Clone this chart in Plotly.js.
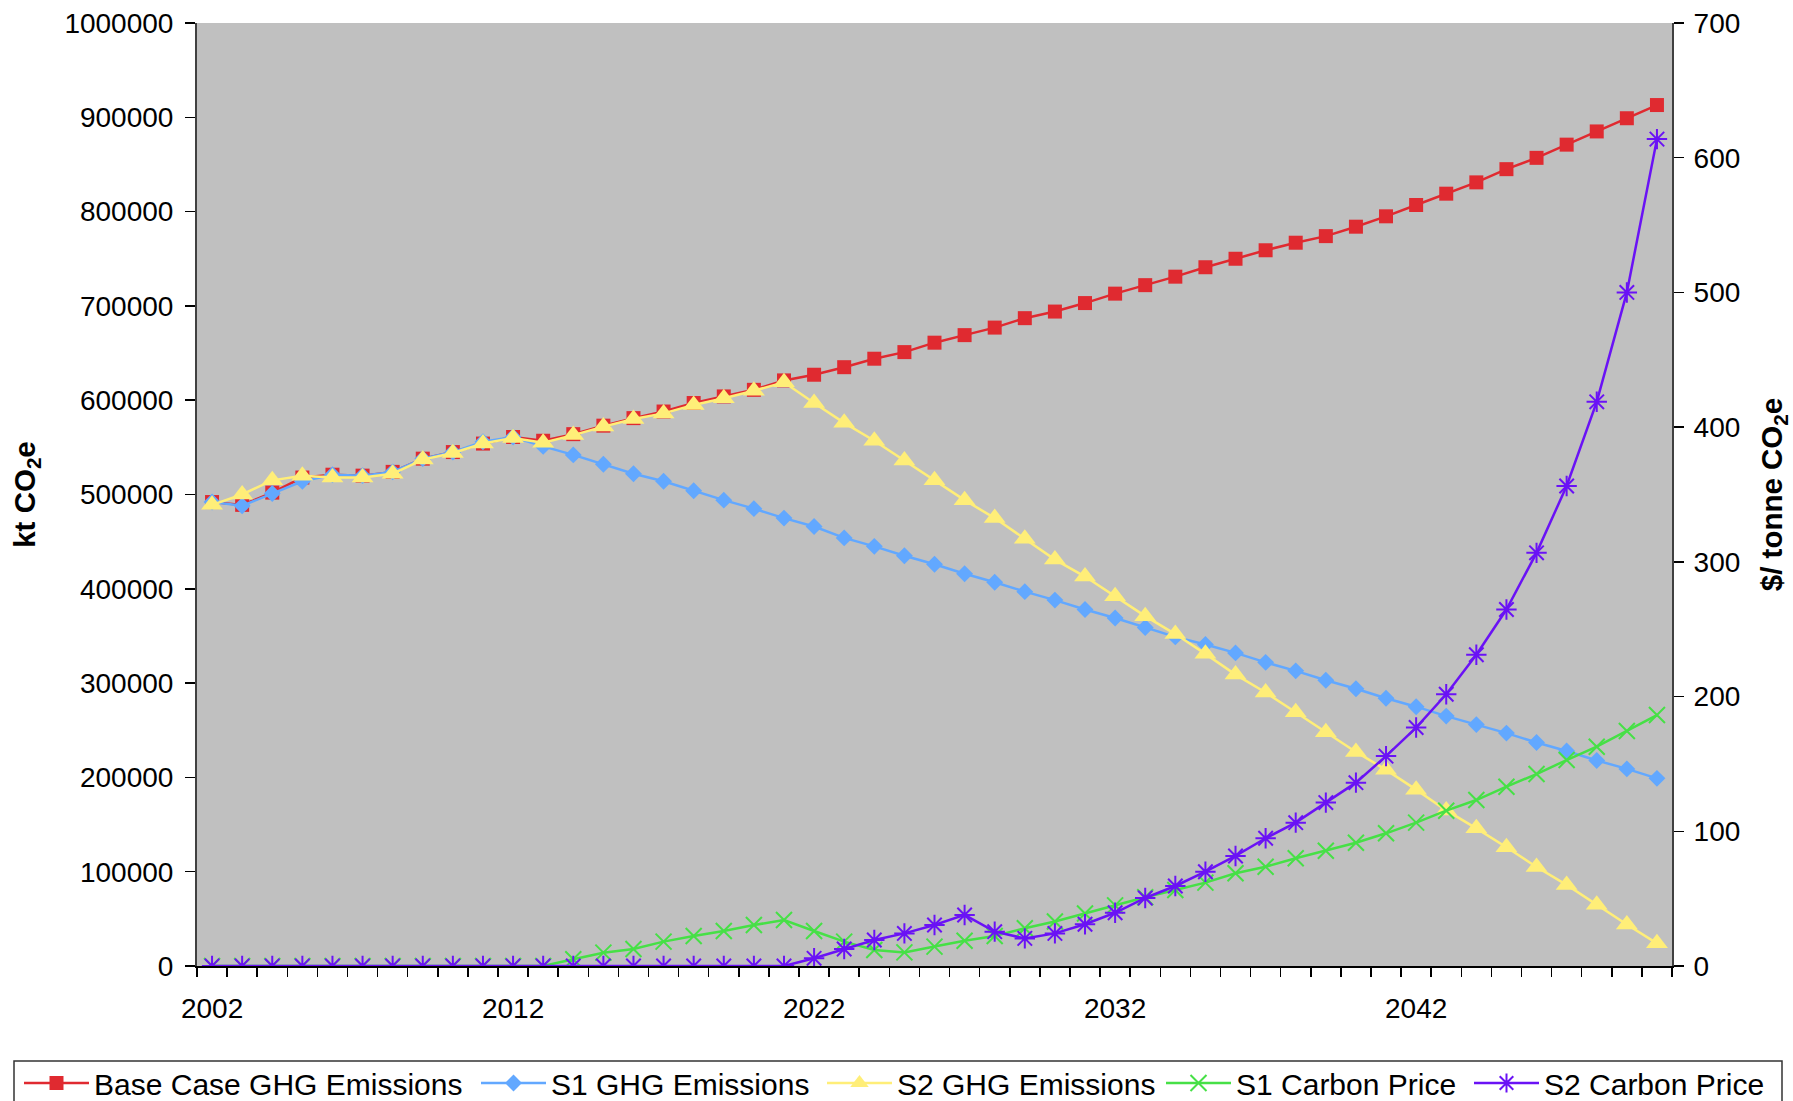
<!DOCTYPE html>
<html>
<head>
<meta charset="utf-8">
<script src="https://cdn.plot.ly/plotly-3.0.1.min.js"></script>
<style>
  html, body { margin: 0; padding: 0; background: #ffffff; }
  #chart { width: 1793px; height: 1101px; }
</style>
</head>
<body>
<div id="chart"></div>
<script>
// Years on the category axis
const years = [2002, 2003, 2004, 2005, 2006, 2007, 2008, 2009, 2010, 2011,
               2012, 2013, 2014, 2015, 2016, 2017, 2018, 2019, 2020, 2021,
               2022, 2023, 2024, 2025, 2026, 2027, 2028, 2029, 2030, 2031,
               2032, 2033, 2034, 2035, 2036, 2037, 2038, 2039, 2040, 2041,
               2042, 2043, 2044, 2045, 2046, 2047, 2048, 2049, 2050];
const yearLabels = [2002, 2012, 2022, 2032, 2042];

// Emissions, kt CO2e (left axis)
const baseCase = [492000, 489000, 502000, 518000, 521000, 520000, 524000, 538000, 545000, 554000,
                  561000, 557000, 564000, 573000, 581000, 588000, 597000, 604000, 611000, 621000,
                  627000, 635000, 644000, 651000, 661000, 669000, 677000, 687000, 694000, 703000,
                  713000, 722000, 731000, 741000, 750000, 759000, 767000, 774000, 784000, 795000,
                  807000, 819000, 831000, 845000, 857000, 871000, 885000, 899000, 913000];
const s1Emissions = [492000, 488000, 501000, 514000, 521000, 520000, 524000, 538000, 545000, 556000,
                     561000, 551000, 542000, 532000, 522000, 514000, 504000, 494000, 485000, 475000,
                     466000, 454000, 445000, 435000, 426000, 416000, 407000, 397000, 388000, 378000,
                     369000, 359000, 349000, 341000, 332000, 322000, 313000, 303000, 294000, 284000,
                     275000, 265000, 256000, 247000, 237000, 228000, 218000, 209000, 199000];
const s2Emissions = [489000, 500000, 515000, 520000, 518000, 518000, 522000, 537000, 544000, 554000,
                     560000, 555000, 563000, 572000, 580000, 586000, 595000, 602000, 610000, 619000,
                     597000, 576000, 557000, 536000, 515000, 494000, 475000, 453000, 431000, 413000,
                     392000, 371000, 352000, 331000, 309000, 290000, 269000, 248000, 227000, 208000,
                     187000, 165000, 146000, 126000, 105000, 86000, 65000, 44000, 24000];

// Carbon prices, $/tonne CO2e (right axis)
const s1Price = [0, 0, 0, 0, 0, 0, 0, 0, 0, 0,
                 0, 0, 5.0, 9.9, 12.6, 18.1, 22.3, 26.0, 30.4, 34.1,
                 26.0, 18.1, 11.9, 10.1, 14.4, 18.8, 22.3, 28.0, 33.0, 39.0,
                 45.0, 51.0, 56.4, 61.9, 68.8, 73.7, 80.0, 85.5, 91.5, 98.5,
                 106.4, 115.3, 123.2, 133.1, 142.5, 152.9, 162.8, 174.5, 186.3];
const s2Price = [0, 0, 0, 0, 0, 0, 0, 0, 0, 0,
                 0, 0, 0, 0, 0, 0, 0, 0, 0, 0,
                 5.7, 12.6, 19.3, 24.2, 30.4, 37.9, 25.5, 20.5, 24.2, 31.0,
                 39.5, 50.5, 59.4, 70.0, 81.7, 94.8, 106.4, 121.3, 136.1, 155.8,
                 177.0, 201.7, 231.0, 264.6, 306.7, 356.3, 418.8, 500.0, 613.8];

const FONT = 'Liberation Sans, Arial, sans-serif';

function series(name, values, color, symbol, size, axis, open, legendId, entryWidth) {
  const marker = { symbol: symbol, size: size, color: color };
  if (open) marker.line = { color: color, width: 2 };
  return {
    type: 'scatter', mode: 'lines+markers', name: name,
    x: years, y: values, yaxis: axis,
    line: { color: color, width: 2.5 },
    marker: marker,
    legend: legendId, legendwidth: entryWidth
  };
}

const traces = [
  series('Base Case GHG Emissions', baseCase, '#e02a30', 'square', 14, 'y', false, 'legend', 377),
  series('S1 GHG Emissions', s1Emissions, '#62a8ff', 'diamond', 13, 'y', false, 'legend', 266),
  series('S2 GHG Emissions', s2Emissions, '#ffee78', 'triangle-up', 19, 'y', false, 'legend', 266),
  series('S1 Carbon Price', s1Price, '#46e046', 'x-thin', 16, 'y2', true, 'legend2', 228),
  series('S2 Carbon Price', s2Price, '#6a12f5', 'asterisk', 17, 'y2', true, 'legend2', 228)
];

const tickFont = { family: FONT, size: 28, color: '#000' };
const titleFont = { family: FONT, size: 29.5, color: '#000' };
const legendFont = { family: FONT, size: 30, color: '#000' };

function legendBlock(xPx) {
  return {
    orientation: 'h',
    xref: 'container', yref: 'container',
    x: xPx / 1793, y: (1101 - 1057) / 1101, xanchor: 'left', yanchor: 'top',
    bgcolor: 'rgba(0,0,0,0)', borderwidth: 0,
    font: legendFont, itemwidth: 65
  };
}

const layout = {
  width: 1793, height: 1101,
  margin: { l: 197, r: 121, t: 23, b: 135 },
  paper_bgcolor: '#ffffff',
  plot_bgcolor: '#c0c0c0',
  font: { family: FONT, size: 28, color: '#000' },
  showlegend: true,
  xaxis: {
    range: [2001.5, 2050.5],
    tickmode: 'array', tickvals: yearLabels, ticktext: yearLabels.map(String),
    ticks: '', tickfont: tickFont, ticklabelstandoff: 16,
    showgrid: false, zeroline: false,
    showline: true, linecolor: '#000', linewidth: 2,
    minor: { tickmode: 'linear', tick0: 2001.5, dtick: 1, ticks: 'outside',
             ticklen: 9, tickwidth: 1.5, tickcolor: '#000', showgrid: false }
  },
  xaxis2: {
    overlaying: 'x', anchor: 'y', range: [2001.5, 2050.5],
    tickmode: 'linear', tick0: 2001.5, dtick: 1, ticks: 'inside',
    ticklen: 9, tickwidth: 1.5, tickcolor: '#000',
    showticklabels: false, showgrid: false, zeroline: false, showline: false
  },
  yaxis: {
    range: [0, 1000000], tickmode: 'linear', tick0: 0, dtick: 100000, tickformat: 'd',
    ticks: 'outside', ticklen: 10, tickwidth: 1.5, tickcolor: '#000',
    tickfont: tickFont, ticklabelstandoff: 6,
    showgrid: false, zeroline: false,
    showline: true, linecolor: '#404040', linewidth: 2,
    title: { text: '<b>kt CO<sub>2</sub>e</b>', font: titleFont, standoff: 20 }
  },
  yaxis2: {
    overlaying: 'y', side: 'right', anchor: 'x',
    range: [0, 700], tickmode: 'linear', tick0: 0, dtick: 100,
    ticks: 'outside', ticklen: 10, tickwidth: 1.5, tickcolor: '#000',
    tickfont: tickFont, ticklabelstandoff: 4,
    showgrid: false, zeroline: false,
    showline: true, linecolor: '#404040', linewidth: 2,
    title: { text: '<b>$/ tonne CO<sub>2</sub>e</b>', font: titleFont, standoff: 22 }
  },
  yaxis3: {
    overlaying: 'y', side: 'left', anchor: 'x',
    range: [0, 1000000], tickmode: 'linear', tick0: 0, dtick: 100000,
    ticks: 'inside', ticklen: 10, tickwidth: 1.5, tickcolor: '#000',
    showticklabels: false, showgrid: false, zeroline: false, showline: false
  },
  yaxis4: {
    overlaying: 'y', side: 'right', anchor: 'x',
    range: [0, 700], tickmode: 'linear', tick0: 0, dtick: 100,
    ticks: 'inside', ticklen: 10, tickwidth: 1.5, tickcolor: '#000',
    showticklabels: false, showgrid: false, zeroline: false, showline: false
  },
  // Two legend groups sharing one framed strip along the bottom
  legend: legendBlock(19),
  legend2: legendBlock(1161),
  shapes: [{
    type: 'rect', xref: 'paper', yref: 'paper',
    x0: (14 - 197) / 1475, x1: (1782 - 197) / 1475,
    y0: (966 - 1061) / 943, y1: (966 - 1120) / 943,
    line: { color: '#333333', width: 1.5 }, fillcolor: 'rgba(0,0,0,0)', layer: 'above'
  }]
};

Plotly.newPlot('chart', traces, layout, { displayModeBar: false, staticPlot: true });
</script>
</body>
</html>
